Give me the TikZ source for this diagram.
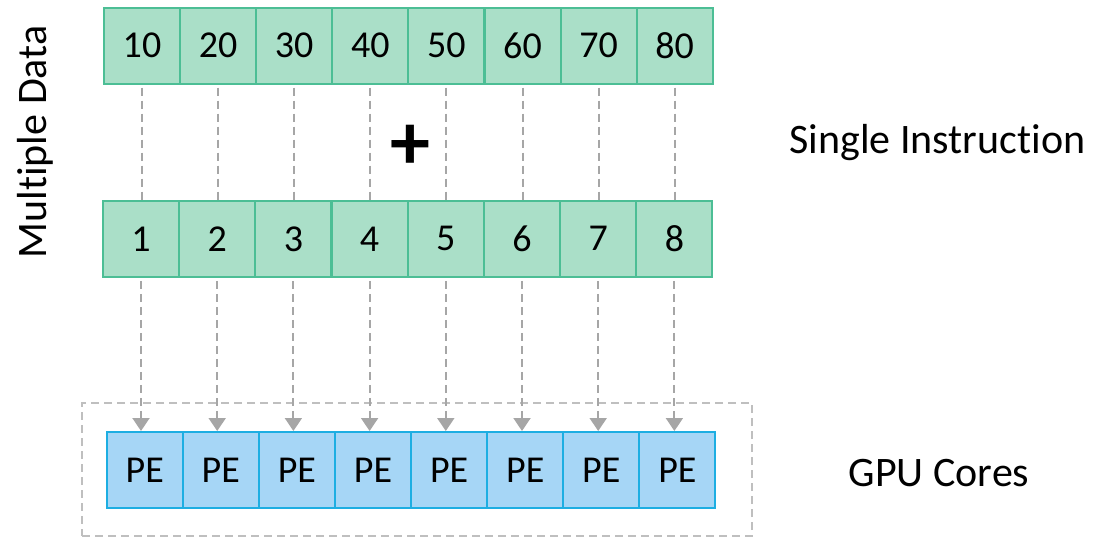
\documentclass[tikz,border=0pt]{standalone}
\usepackage{fontspec}
\setmainfont[RawFeature={-liga;-clig;-calt;-dlig}]{Carlito}
\usetikzlibrary{arrows.meta,positioning}
\definecolor{gfill}{HTML}{AADFC8}
\definecolor{gline}{HTML}{4CBE95}
\definecolor{bfill}{HTML}{A6D6F6}
\definecolor{bline}{HTML}{1DAEE2}
\definecolor{arrowgray}{HTML}{A6A6A6}
\definecolor{framegray}{HTML}{BFBFBF}
\tikzset{
  cell/.style={draw, line width=2pt, minimum width=76pt, minimum height=76pt, inner sep=0pt, font=\fontsize{38}{38}\selectfont},
  datacell/.style={cell, fill=gfill, draw=gline},
  pecell/.style={cell, fill=bfill, draw=bline},
  link/.style={draw=arrowgray, line width=2pt, dash pattern=on 8pt off 5pt},
  flow/.style={link, -{Triangle[width=17pt,length=13pt]}},
  frame/.style={draw=framegray, line width=2pt, dash pattern=on 8pt off 5pt},
  label/.style={font=\fontsize{42}{42}\selectfont, inner sep=0pt}
}
\begin{document}
\begin{tikzpicture}[x=1pt,y=-1pt]
\useasboundingbox (0,0) rectangle (1093,538);
\node[frame, minimum width=670pt, minimum height=133pt, inner sep=0pt] (grp) at (417,469.5) {};
\foreach \i/\v in {1/10,2/20,3/30,4/40,5/50,6/60,7/70,8/80}{
  \node[datacell] (t\i) at ({104+38+(\i-1)*76.1},45.7) {\v};
}
\foreach \i in {1,...,8}{
  \node[datacell] (m\i) at ({103+38+(\i-1)*76.2},238.8) {\i};
  \node[pecell] (p\i) at ({106.7+38+(\i-1)*76.1},470) {PE};
}
\foreach \i in {1,...,8}{
  \draw[link] ([yshift=-3pt]t\i.south) -- (t\i.south |- m\i.north);
  \draw[flow] ([yshift=-3pt]m\i.south) -- (m\i.south |- p\i.north);
}
\node[inner sep=0pt, font=\fontsize{80}{80}\selectfont\bfseries] (plus) at (410,147) {+};
\node[label, rotate=90] (md) at (35,142) {Multiple Data};
\node[label] (si) at (937.5,143) {Single Instruction};
\node[label] (gc) at (939,473) {GPU Cores};
\end{tikzpicture}
\end{document}
